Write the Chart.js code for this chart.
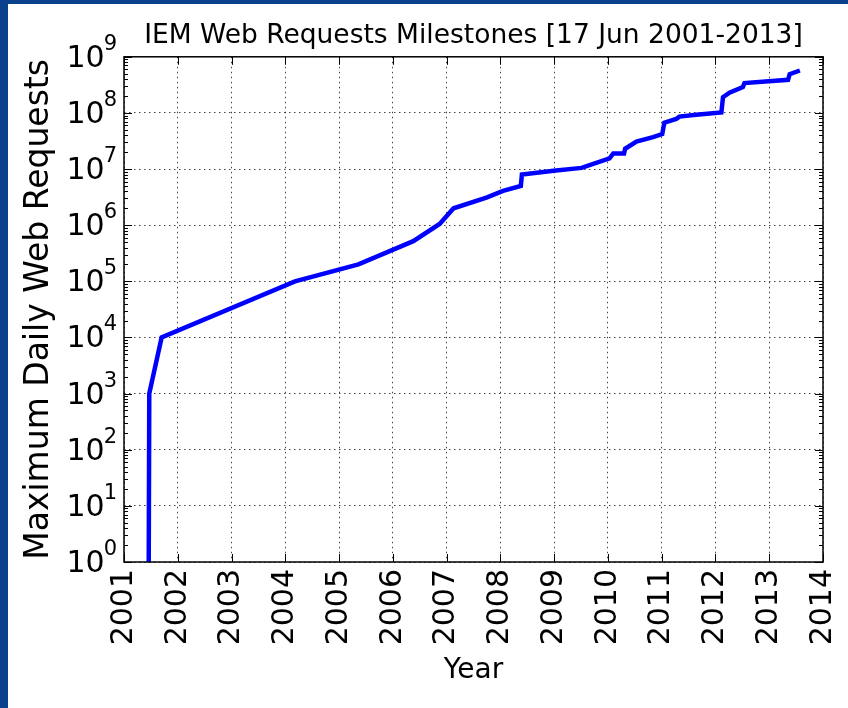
<!DOCTYPE html>
<html>
<head>
<meta charset="utf-8">
<script src="https://cdn.jsdelivr.net/npm/chart.js@4/dist/chart.umd.min.js"></script>
<style>
    html, body { margin: 0; padding: 0; background: #fff; }
    #wrap { position: relative; width: 848px; height: 708px; }
    .strip { position: absolute; background: #0b418c; }
</style>
</head>
<body>
<div id="wrap">
    <canvas id="chart" width="848" height="708"></canvas>
    <div class="strip" style="left:0;top:0;width:848px;height:4px"></div>
    <div class="strip" style="left:0;top:0;width:8px;height:708px"></div>
</div>
<script>
// decimal year of each milestone
const YEARS = [2001.46, 2001.47, 2001.70, 2004.18, 2005.36, 2006.38, 2006.87, 2007.13,
    2007.74, 2008.05, 2008.38, 2008.40, 2008.99, 2009.51, 2010.03, 2010.10, 2010.30,
    2010.32, 2010.53, 2010.84, 2011.01, 2011.05, 2011.27, 2011.33, 2011.64, 2012.11,
    2012.14, 2012.26, 2012.51, 2012.54, 2013.35, 2013.38, 2013.57];
// maximum daily web requests reached
const REQUESTS = [1, 1000, 10000, 100000, 200000, 520000, 1050000, 2000000,
    3100000, 4100000, 5000000, 8000000, 9300000, 10500000, 15500000, 19000000, 19000000,
    23000000, 31000000, 37000000, 42000000, 67000000, 78000000, 86000000, 93000000, 102000000,
    190000000, 230000000, 290000000, 340000000, 390000000, 490000000, 570000000];

const X_TICKS = [2001, 2002, 2003, 2004, 2005, 2006, 2007, 2008, 2009, 2010, 2011, 2012, 2013, 2014];
const Y_TICKS = [1e0, 1e1, 1e2, 1e3, 1e4, 1e5, 1e6, 1e7, 1e8, 1e9];

const FONT = "'DejaVu Sans', sans-serif";

// inward major/minor ticks, the axes frame and 10^n tick labels, matplotlib style
const frameTicks = {
    id: 'frameTicks',
    afterDatasetsDraw(chart) {
        const {ctx, chartArea: a, scales: {x, y}} = chart;
        ctx.save();
        ctx.strokeStyle = '#000';
        ctx.lineWidth = 1;
        ctx.beginPath();
        X_TICKS.forEach(v => {
            const px = Math.round(x.getPixelForValue(v)) + 0.5;
            ctx.moveTo(px, a.bottom); ctx.lineTo(px, a.bottom - 8);
            ctx.moveTo(px, a.top); ctx.lineTo(px, a.top + 8);
        });
        Y_TICKS.forEach(v => {
            const py = Math.round(y.getPixelForValue(v)) + 0.5;
            ctx.moveTo(a.left, py); ctx.lineTo(a.left + 8, py);
            ctx.moveTo(a.right, py); ctx.lineTo(a.right - 8, py);
        });
        for (let d = 0; d < 9; d++) {
            for (let k = 2; k <= 9; k++) {
                const py = Math.round(y.getPixelForValue(k * Math.pow(10, d))) + 0.5;
                ctx.moveTo(a.left, py); ctx.lineTo(a.left + 4, py);
                ctx.moveTo(a.right, py); ctx.lineTo(a.right - 4, py);
            }
        }
        ctx.stroke();
        ctx.lineWidth = 1.5;
        ctx.strokeRect(a.left, a.top, a.right - a.left, a.bottom - a.top);

        // y tick labels as 10 with a raised exponent
        ctx.fillStyle = '#000';
        ctx.textAlign = 'right';
        ctx.textBaseline = 'alphabetic';
        y.ticks.forEach(t => {
            const py = y.getPixelForValue(t.value);
            const exp = String(Math.round(Math.log10(t.value)));
            const right = a.left - 7;
            ctx.font = '21px ' + FONT;
            const ew = ctx.measureText(exp).width;
            ctx.fillText(exp, right, py - 7);
            ctx.font = '30px ' + FONT;
            ctx.fillText('10', right - ew + 1, py + 10);
        });
        ctx.restore();
    }
};

new Chart(document.getElementById('chart'), {
    type: 'line',
    data: {
        datasets: [{
            data: YEARS.map((yr, i) => ({x: yr, y: REQUESTS[i]})),
            borderColor: '#0000ff',
            borderWidth: 4.5,
            pointRadius: 0,
            tension: 0,
            fill: false
        }]
    },
    options: {
        responsive: false,
        animation: false,
        layout: { padding: { left: 0, right: 25, top: 0, bottom: 0 } },
        plugins: {
            legend: { display: false },
            tooltip: { enabled: false },
            title: {
                display: true,
                fullSize: false,
                text: 'IEM Web Requests Milestones [17 Jun 2001-2013]',
                color: '#000',
                font: { family: FONT, size: 26.5, weight: 'normal' },
                padding: { top: 20, bottom: 5 }
            }
        },
        scales: {
            x: {
                type: 'linear',
                min: 2001,
                max: 2014,
                afterBuildTicks: s => { s.ticks = X_TICKS.map(v => ({value: v})); },
                afterFit: s => { s.height = 146; s.paddingLeft = 0; s.paddingRight = 0; },
                ticks: {
                    color: '#000',
                    font: { family: FONT, size: 30 },
                    minRotation: 90,
                    maxRotation: 90,
                    padding: 7,
                    callback: v => String(v)
                },
                grid: { color: '#444', lineWidth: 1, drawTicks: false },
                border: { display: false, dash: [1.5, 3.5] },
                title: {
                    display: true,
                    text: 'Year',
                    color: '#000',
                    font: { family: FONT, size: 28 },
                    padding: { top: 0, bottom: 20 }
                }
            },
            y: {
                type: 'logarithmic',
                min: 1,
                max: 1e9,
                afterBuildTicks: s => { s.ticks = Y_TICKS.map(v => ({value: v})); },
                afterFit: s => { s.width = 124; s.paddingTop = 0; s.paddingBottom = 0; },
                ticks: { display: false },
                grid: { color: '#444', lineWidth: 1, drawTicks: false },
                border: { display: false, dash: [1.5, 3.5] },
                title: {
                    display: true,
                    text: 'Maximum Daily Web Requests',
                    color: '#000',
                    font: { family: FONT, size: 33 },
                    padding: { top: 20, bottom: 0 }
                }
            }
        }
    },
    plugins: [frameTicks]
});
</script>
</body>
</html>
